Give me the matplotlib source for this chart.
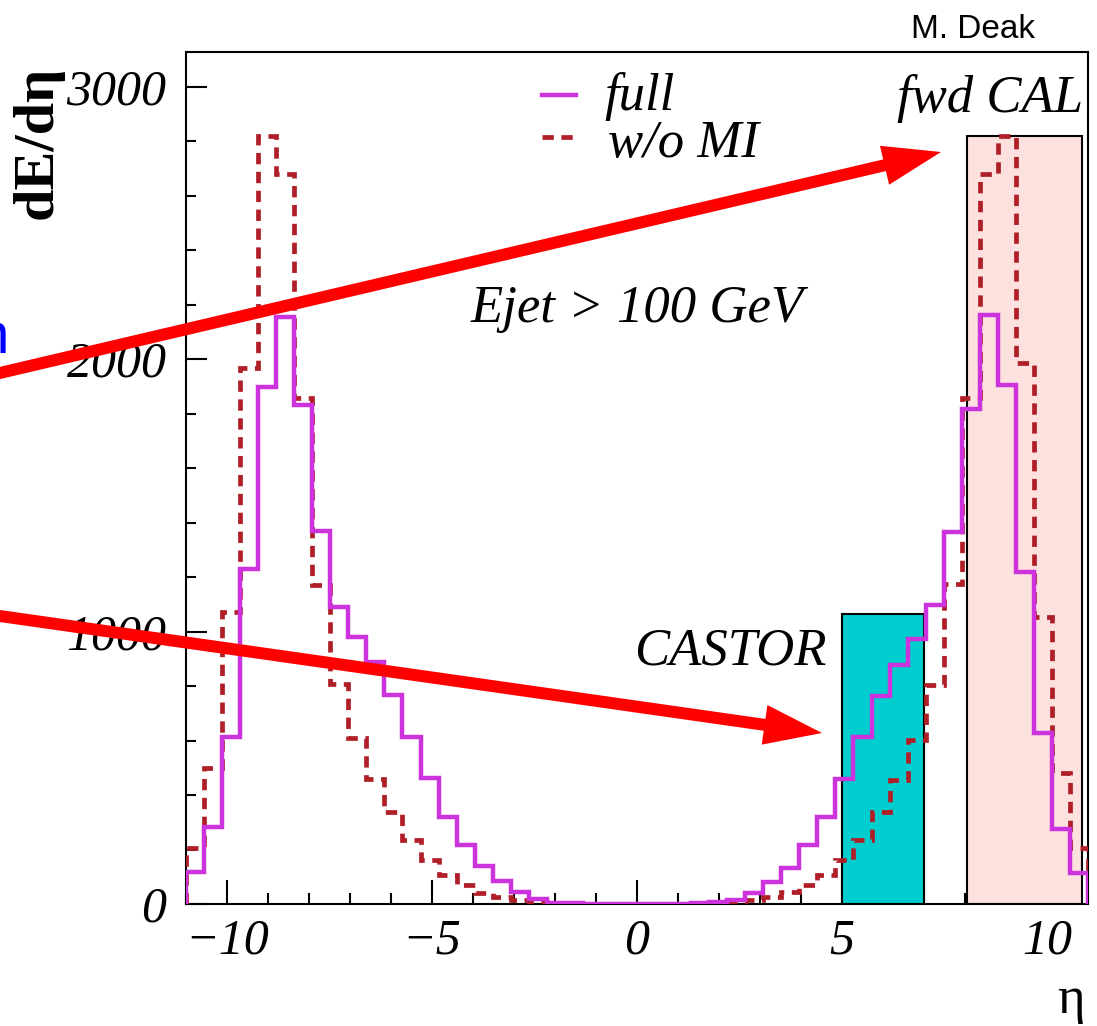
import numpy as np
import matplotlib
matplotlib.use("Agg")
import matplotlib.pyplot as plt
from matplotlib.patches import Rectangle, FancyArrow
from matplotlib.ticker import MultipleLocator

# eta binning shared by both histograms
eta_lo, eta_hi, n_bins = -11.0, 11.0, 50

# dE/deta per eta bin, full event (with multiple interactions)
dedeta_full = [116, 283, 614, 1229, 1899, 2155, 1831, 1370, 1090, 981,
               888, 769, 614, 463, 321, 218, 139, 84, 44, 18,
               5, 2, 1, 0, 0, 0, 0, 1, 2, 6,
               15, 42, 82, 133, 218, 321, 460, 614, 762, 878,
               974, 1096, 1366, 1819, 2164, 1905, 1219, 627, 274, 113]

# dE/deta per eta bin, without multiple interactions
dedeta_no_mi = [206, 499, 1071, 1969, 2819, 2680, 1856, 1170, 807, 608,
                458, 338, 235, 161, 107, 68, 42, 24, 14, 7,
                2, 1, 0, 0, 0, 0, 0, 0, 1, 3,
                7, 14, 25, 44, 70, 106, 161, 235, 339, 455,
                602, 804, 1174, 1856, 2680, 2819, 1985, 1055, 481, 206]

# detector acceptance bands: eta range and drawn height
castor_eta = (5.0, 7.0)
castor_top = 1065
fwdcal_eta = (8.04, 10.86)
fwdcal_top = 2820

series_labels = ["full", "w/o MI"]

FULL_C = "#CC33DD"
NOMI_C = "#B01E28"
NOMI_LS = (0, (2.4, 1.6))

W, H = 1097, 1026
plt.rcParams["font.family"] = ["Liberation Serif", "DejaVu Serif"]
plt.rcParams["font.style"] = "italic"

fig = plt.figure(figsize=(W / 100, H / 100), dpi=100)
fig.patch.set_facecolor("white")

# axes box in pixels: x 186..1088, y 52..904
ax = fig.add_axes([186 / W, (H - 904) / H, (1088 - 186) / W, (904 - 52) / H])

edges = np.linspace(eta_lo, eta_hi, n_bins + 1)

# acceptance boxes behind the histograms
ax.add_patch(Rectangle((castor_eta[0], 0), castor_eta[1] - castor_eta[0], castor_top,
                       facecolor="#00CDCD", edgecolor="black", lw=1.5, zorder=2))
ax.add_patch(Rectangle((fwdcal_eta[0], 0), fwdcal_eta[1] - fwdcal_eta[0], fwdcal_top,
                       facecolor="#FDE1DF", edgecolor="black", lw=1.5, zorder=2))

ax.stairs(dedeta_no_mi, edges, baseline=0, color=NOMI_C, lw=3.4,
          linestyle=NOMI_LS, zorder=3)
ax.stairs(dedeta_full, edges, baseline=0, color=FULL_C, lw=3.2, zorder=4)

ax.set_xlim(eta_lo, eta_hi)
ax.set_ylim(0, 3128)

ax.xaxis.set_major_locator(MultipleLocator(5))
ax.xaxis.set_minor_locator(MultipleLocator(1))
ax.yaxis.set_major_locator(MultipleLocator(1000))
ax.yaxis.set_minor_locator(MultipleLocator(200))
ax.tick_params(which="both", direction="in", top=False, right=False,
               labelsize=36, width=1.5, color="black")
ax.tick_params(axis="x", which="major", length=17, pad=10)
ax.tick_params(axis="x", which="minor", length=8)
ax.tick_params(axis="y", which="major", length=15, pad=14)
ax.tick_params(axis="y", which="minor", length=7.5)
for sp in ax.spines.values():
    sp.set_linewidth(1.5)

# legend drawn by hand, ROOT style
ax.plot([-2.32, -1.49], [2971, 2971], color=FULL_C, lw=3.2)
ax.plot([-2.32, -1.49], [2817, 2817], color=NOMI_C, lw=3.4, linestyle=NOMI_LS)
ax.text(-0.8, 2916, series_labels[0], fontsize=38, va="baseline")
ax.text(-0.7, 2743, series_labels[1], fontsize=38, va="baseline")

ax.text(10.88, 2908, "fwd CAL", fontsize=38, ha="right", va="baseline")
ax.text(-4.05, 2137, "Ejet > 100 GeV", fontsize=38, va="baseline")
ax.text(-0.07, 881, "CASTOR", fontsize=38, va="baseline")

# axis titles
fig.text(38 / W, 1 - 142 / H, "dE/dη", fontsize=42, fontweight="bold",
         style="normal", rotation=90, ha="center", va="center")
fig.text(1085 / W, 1 - 1013 / H, "η", fontsize=38, style="normal",
         ha="right", va="baseline")
fig.text(911 / W, 1 - 38 / H, "M. Deak", fontsize=24, style="normal",
         family="Liberation Sans", va="baseline")

# annotation layer in pixel coordinates, on top of everything
ov = fig.add_axes([0, 0, 1, 1], zorder=10)
ov.set_xlim(0, W)
ov.set_ylim(H, 0)
ov.axis("off")

ov.text(9, 353, "n", color="blue", fontsize=42, style="normal",
        family="Liberation Sans", ha="right", va="baseline")

for (x0, y0), (x1, y1) in [((-10, 375.3), (941, 152)), ((-10, 614.6), (822, 733))]:
    ov.add_patch(FancyArrow(x0, y0, x1 - x0, y1 - y0, width=12, head_width=40,
                            head_length=58, length_includes_head=True,
                            color="red", lw=0))

fig.savefig("out.png", dpi=100)
